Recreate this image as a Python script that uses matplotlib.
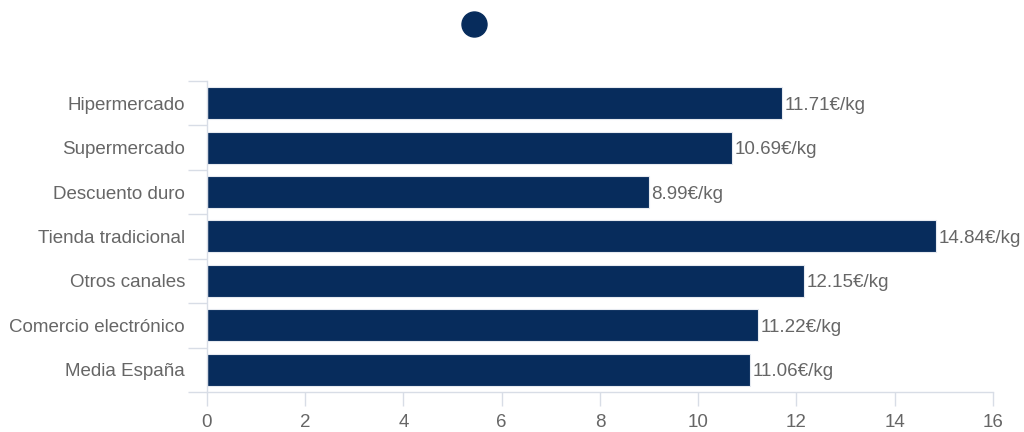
import matplotlib.pyplot as plt
from matplotlib.lines import Line2D

plt.rcParams["font.family"] = ["Liberation Sans", "DejaVu Sans"]

canales = ["Hipermercado", "Supermercado", "Descuento duro", "Tienda tradicional",
           "Otros canales", "Comercio electrónico", "Media España"]
precios = [11.71, 10.69, 8.99, 14.84, 12.15, 11.22, 11.06]
x_ticks = [0, 2, 4, 6, 8, 10, 12, 14, 16]

navy = "#072c5c"
grey_line = "#d8dde6"
text_col = "#666666"

fig = plt.figure(figsize=(10.24, 4.32), dpi=100)
ax = fig.add_axes([0.2021, 0.0926, 0.7676, 0.7200])

ypos = list(range(len(canales)))
bars = ax.barh(ypos, precios, height=0.72, color=navy, edgecolor="#e6eaf0", linewidth=0.8)

for y, v in zip(ypos, precios):
    ax.text(v + 0.05, y, f"{v:.2f}€/kg", va="center_baseline", ha="left", fontsize=13.5, color=text_col)

ax.set_ylim(len(canales) - 0.5, -0.5)
ax.set_xlim(0, 16)
ax.set_xticks(x_ticks)
ax.set_xticklabels([str(t) for t in x_ticks])

# category ticks sit on the boundaries between bars
ax.set_yticks([i - 0.5 for i in range(len(canales) + 1)], minor=False)
ax.set_yticklabels([""] * (len(canales) + 1))
ax.set_yticks(ypos, minor=True)
ax.set_yticklabels(canales, minor=True)
ax.tick_params(axis="y", which="major", length=14, color=grey_line, width=1)
ax.tick_params(axis="y", which="minor", length=0, pad=15.8, labelsize=13.5, labelcolor=text_col)
ax.tick_params(axis="x", length=10, color=grey_line, width=1, pad=6, labelsize=13.5, labelcolor=text_col)

for side in ["top", "right"]:
    ax.spines[side].set_visible(False)
for side in ["left", "bottom"]:
    ax.spines[side].set_color(grey_line)
    ax.spines[side].set_linewidth(1)

h = Line2D([], [], marker="o", ls="", color=navy, markersize=18)
fig.legend(handles=[h], labels=[""], loc="center", bbox_to_anchor=(0.463, 0.942),
           frameon=False, handlelength=1, handletextpad=0)

fig.savefig("out.png", dpi=100)
